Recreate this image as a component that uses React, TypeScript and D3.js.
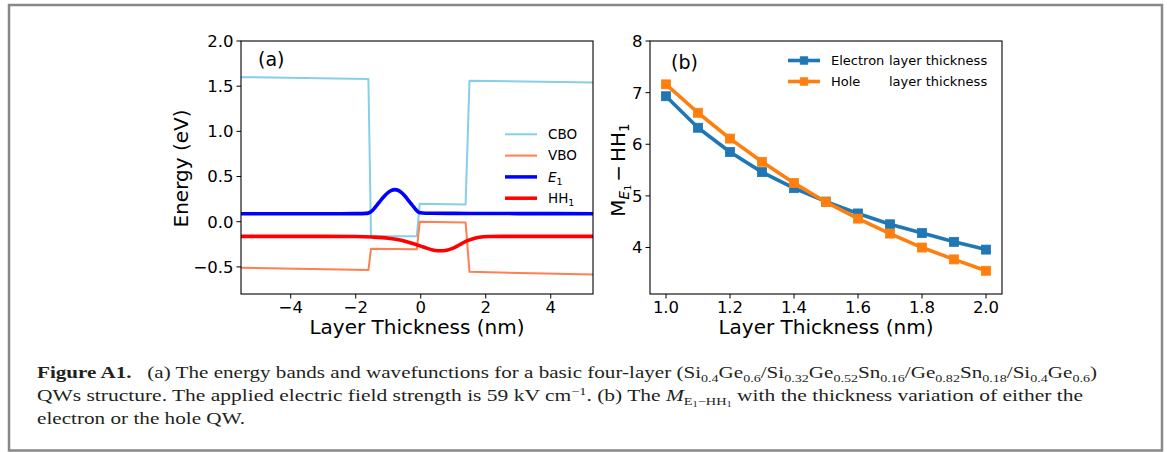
import React from "react";
import * as d3 from "d3";

const W = 1167;
const H = 452;

// ---------- Panel (a): band edges and wavefunctions ----------
// Band-edge corners (nm, eV)
const bandX = [-5.53, -1.61, -1.53, -0.12, -0.03, 1.38, 1.5, 5.3];
const cboE = [1.6, 1.58, -0.16, -0.16, 0.2, 0.19, 1.56, 1.54];
const vboE = [-0.51, -0.535, -0.3, -0.305, 0.0, -0.01, -0.555, -0.585];

// Electron ground state E1
const e1X = [-5.53, -2.5, -2.0, -1.8, -1.7, -1.62, -1.5, -1.4, -1.3, -1.2, -1.1, -1.0, -0.9, -0.79, -0.7, -0.6, -0.5, -0.4, -0.3, -0.2, -0.1, -0.05, 0.05, 0.3, 1.0, 3.0, 5.3];
const e1E = [0.088, 0.088, 0.089, 0.09, 0.092, 0.095, 0.12, 0.16, 0.205, 0.25, 0.29, 0.325, 0.347, 0.355, 0.348, 0.325, 0.29, 0.245, 0.2, 0.155, 0.115, 0.102, 0.097, 0.094, 0.092, 0.09, 0.088];

// Heavy-hole ground state HH1
const hh1X = [-5.53, -3.0, -2.0, -1.5, -1.0, -0.6, -0.3, 0.0, 0.2, 0.4, 0.6, 0.8, 1.0, 1.2, 1.4, 1.6, 1.8, 2.1, 2.5, 5.3];
const hh1E = [-0.162, -0.162, -0.164, -0.17, -0.183, -0.205, -0.235, -0.27, -0.295, -0.315, -0.322, -0.315, -0.292, -0.255, -0.215, -0.19, -0.172, -0.164, -0.162, -0.162];

const aXTicks = [-4, -2, 0, 2, 4];
const aYTicks = [-0.5, 0, 0.5, 1.0, 1.5, 2.0];

// ---------- Panel (b): M_{E1-HH1} vs layer thickness ----------
const thickness = [1.0, 1.1, 1.2, 1.3, 1.4, 1.5, 1.6, 1.7, 1.8, 1.9, 2.0];
const electronM = [6.93, 6.32, 5.85, 5.46, 5.15, 4.89, 4.66, 4.45, 4.28, 4.11, 3.96];
const holeM = [7.16, 6.61, 6.11, 5.66, 5.25, 4.88, 4.56, 4.27, 4.0, 3.77, 3.55];

const bXTicks = [1.0, 1.2, 1.4, 1.6, 1.8, 2.0];
const bYTicks = [4, 5, 6, 7, 8];

// Caption segments: [text, subscript?]
const captionAlloy: [string, boolean][] = [
  ["\u2002 (a) The energy bands and wavefunctions for a basic four-layer (Si", false],
  ["0.4", true], ["Ge", false], ["0.6", true], ["/Si", false], ["0.32", true], ["Ge", false], ["0.52", true],
  ["Sn", false], ["0.16", true], ["/Ge", false], ["0.82", true], ["Sn", false], ["0.18", true], ["/Si", false],
  ["0.4", true], ["Ge", false], ["0.6", true], [")", false],
];

const FONT = "DejaVu Sans, sans-serif";
const SERIF = "Liberation Serif, Times New Roman, serif";

const C_CBO = "#87ceeb";
const C_VBO = "#ff7f50";
const C_E1 = "#0000ff";
const C_HH1 = "#ff0000";
const C_EL = "#1f77b4";
const C_HO = "#ff7f0e";

type Box = { x0: number; x1: number; y0: number; y1: number };

function Frame({ b }: { b: Box }) {
  return (
    <rect x={b.x0} y={b.y0} width={b.x1 - b.x0} height={b.y1 - b.y0} fill="none" stroke="#000" strokeWidth={1.1} />
  );
}

function XTicks({ scale, ticks, y, fmt }: { scale: any; ticks: number[]; y: number; fmt: (v: number) => string }) {
  return (
    <g>
      {ticks.map((t) => (
        <g key={t}>
          <line x1={scale(t)} x2={scale(t)} y1={y} y2={y + 4.5} stroke="#000" strokeWidth={1} />
          <text x={scale(t)} y={y + 18.5} textAnchor="middle" fontFamily={FONT} fontSize={16.5} fill="#000">
            {fmt(t)}
          </text>
        </g>
      ))}
    </g>
  );
}

function YTicks({ scale, ticks, x, fmt }: { scale: any; ticks: number[]; x: number; fmt: (v: number) => string }) {
  return (
    <g>
      {ticks.map((t) => (
        <g key={t}>
          <line x1={x - 4.5} x2={x} y1={scale(t)} y2={scale(t)} stroke="#000" strokeWidth={1} />
          <text x={x - 7.5} y={scale(t)} dy="0.36em" textAnchor="end" fontFamily={FONT} fontSize={16.5} fill="#000">
            {fmt(t)}
          </text>
        </g>
      ))}
    </g>
  );
}

function PanelA() {
  const b: Box = { x0: 241, x1: 593, y0: 41, y1: 294 };
  const x = d3.scaleLinear().domain([-5.53, 5.3]).range([b.x0, b.x1]);
  const y = d3.scaleLinear().domain([-0.8, 2.0]).range([b.y1, b.y0]);

  const straight = d3
    .line<[number, number]>()
    .x((d) => x(d[0]))
    .y((d) => y(d[1]));
  const smooth = d3
    .line<[number, number]>()
    .x((d) => x(d[0]))
    .y((d) => y(d[1]))
    .curve(d3.curveMonotoneX);

  const cbo = bandX.map((v, i) => [v, cboE[i]] as [number, number]);
  const vbo = bandX.map((v, i) => [v, vboE[i]] as [number, number]);
  const e1 = e1X.map((v, i) => [v, e1E[i]] as [number, number]);
  const hh1 = hh1X.map((v, i) => [v, hh1E[i]] as [number, number]);

  const fmtY = d3.format(".1f");
  const fmtX = d3.format("d");

  const legend = [
    { label: "CBO", color: C_CBO, w: 2 },
    { label: "VBO", color: C_VBO, w: 2 },
    { label: "E1", color: C_E1, w: 3.5 },
    { label: "HH1", color: C_HH1, w: 3.5 },
  ];

  return (
    <g>
      <defs>
        <clipPath id="clipA">
          <rect x={b.x0} y={b.y0} width={b.x1 - b.x0} height={b.y1 - b.y0} />
        </clipPath>
      </defs>
      <g clipPath="url(#clipA)" fill="none" strokeLinejoin="round">
        <path d={straight(cbo) || ""} stroke={C_CBO} strokeWidth={2} />
        <path d={straight(vbo) || ""} stroke={C_VBO} strokeWidth={2} />
        <path d={smooth(e1) || ""} stroke={C_E1} strokeWidth={3.6} />
        <path d={smooth(hh1) || ""} stroke={C_HH1} strokeWidth={3.6} />
      </g>
      <Frame b={b} />
      <XTicks scale={x} ticks={aXTicks} y={b.y1} fmt={fmtX} />
      <YTicks scale={y} ticks={aYTicks} x={b.x0} fmt={fmtY} />
      <text x={258} y={66} fontFamily={FONT} fontSize={19} fill="#000">(a)</text>
      <text x={(b.x0 + b.x1) / 2} y={334} textAnchor="middle" fontFamily={FONT} fontSize={20} fill="#000">
        Layer Thickness (nm)
      </text>
      <text transform={`translate(188,168.5) rotate(-90)`} textAnchor="middle" fontFamily={FONT} fontSize={20} fill="#000">
        Energy (eV)
      </text>
      {legend.map((l, i) => {
        const ly = 134.3 + i * 21.3;
        return (
          <g key={l.label}>
            <line x1={505} x2={537} y1={ly} y2={ly} stroke={l.color} strokeWidth={l.w} />
            <text x={548} y={ly} dy="0.36em" fontFamily={FONT} fontSize={13.5} fill="#000">
              {l.label === "E1" ? (
                <>
                  <tspan fontStyle="italic">E</tspan>
                  <tspan fontSize={9.5} dy={3}>1</tspan>
                </>
              ) : l.label === "HH1" ? (
                <>
                  HH<tspan fontSize={9.5} dy={3}>1</tspan>
                </>
              ) : (
                l.label
              )}
            </text>
          </g>
        );
      })}
    </g>
  );
}

function Square({ cx, cy, s, color }: { cx: number; cy: number; s: number; color: string }) {
  return <rect x={cx - s / 2} y={cy - s / 2} width={s} height={s} fill={color} stroke={color} strokeWidth={0.8} />;
}

function PanelB() {
  const b: Box = { x0: 650, x1: 1002, y0: 41, y1: 294 };
  const x = d3.scaleLinear().domain([0.95, 2.05]).range([b.x0, b.x1]);
  const y = d3.scaleLinear().domain([3.1, 8.0]).range([b.y1, b.y0]);
  const line = d3
    .line<number>()
    .x((_, i) => x(thickness[i]))
    .y((d) => y(d));

  const fmtX = d3.format(".1f");
  const fmtY = d3.format("d");

  const series = [
    { name: "Electron", vals: electronM, color: C_EL },
    { name: "Hole", vals: holeM, color: C_HO },
  ];

  return (
    <g>
      {series.map((s) => (
        <g key={s.name}>
          <path d={line(s.vals) || ""} fill="none" stroke={s.color} strokeWidth={3.6} strokeLinejoin="round" />
          {s.vals.map((v, i) => (
            <Square key={i} cx={x(thickness[i])} cy={y(v)} s={9} color={s.color} />
          ))}
        </g>
      ))}
      <Frame b={b} />
      <XTicks scale={x} ticks={bXTicks} y={b.y1} fmt={fmtX} />
      <YTicks scale={y} ticks={bYTicks} x={b.x0} fmt={fmtY} />
      <text x={671} y={69} fontFamily={FONT} fontSize={19} fill="#000">(b)</text>
      <text x={(b.x0 + b.x1) / 2} y={334} textAnchor="middle" fontFamily={FONT} fontSize={20} fill="#000">
        Layer Thickness (nm)
      </text>
      <text transform={`translate(625,170) rotate(-90)`} textAnchor="middle" fontFamily={FONT} fontSize={20} fill="#000">
        M<tspan fontSize={13.5} dy={4} fontStyle="italic">E</tspan>
        <tspan fontSize={9.5} dy={2}>1</tspan>
        <tspan dy={-6} dx={3}>−</tspan>
        <tspan dx={3}>HH</tspan>
        <tspan fontSize={13.5} dy={4}>1</tspan>
      </text>
      {series.map((s, i) => {
        const ly = 60.5 + i * 21;
        return (
          <g key={s.name}>
            <line x1={788} x2={820} y1={ly} y2={ly} stroke={s.color} strokeWidth={3.6} />
            <Square cx={804} cy={ly} s={7.5} color={s.color} />
            <text x={831} y={ly} dy="0.36em" fontFamily={FONT} fontSize={13} fill="#000">
              {s.name}
              <tspan x={889}>layer thickness</tspan>
            </text>
          </g>
        );
      })}
    </g>
  );
}

function Caption() {
  // Subscripts are placed with relative dy shifts; each segment undoes the previous shift.
  let shift = 0;
  const alloy = captionAlloy.map(([t, isSub], i) => {
    const target = isSub ? 3.5 : 0;
    const dy = target - shift;
    shift = target;
    return (
      <tspan key={i} dy={dy} fontSize={isSub ? 11 : 16.5}>
        {t}
      </tspan>
    );
  });
  return (
    <g fontFamily={SERIF} fontSize={16.5} fill="#231f20">
      <text x={37} y={378} textLength={1060} lengthAdjust="spacingAndGlyphs">
        <tspan fontWeight="bold">Figure A1.</tspan>
        {alloy}
      </text>
      <text x={37} y={401} textLength={1046} lengthAdjust="spacingAndGlyphs">
        <tspan>QWs structure. The applied electric field strength is 59 kV cm</tspan>
        <tspan fontSize={11} dy={-6}>−1</tspan>
        <tspan dy={6}>. (b) The </tspan>
        <tspan fontStyle="italic">M</tspan>
        <tspan fontSize={11} dy={3.5}>E</tspan>
        <tspan fontSize={8} dy={2}>1</tspan>
        <tspan fontSize={11} dy={-2}>−HH</tspan>
        <tspan fontSize={8} dy={2}>1</tspan>
        <tspan dy={-5.5}> with the thickness variation of either the</tspan>
      </text>
      <text x={37} y={424} textLength={208} lengthAdjust="spacingAndGlyphs">
        electron or the hole QW.
      </text>
    </g>
  );
}

export default function App() {
  return (
    <svg
      width={W}
      height={H}
      viewBox={`0 0 ${W} ${H}`}
      style={{ position: "absolute", left: 0, top: 0, background: "#fff" }}
    >
      <rect x={0} y={0} width={W} height={H} fill="#fff" />
      <rect x={9} y={5} width={1153} height={445.5} fill="none" stroke="#888" strokeWidth={2.5} />
      <PanelA />
      <PanelB />
      <Caption />
    </svg>
  );
}
